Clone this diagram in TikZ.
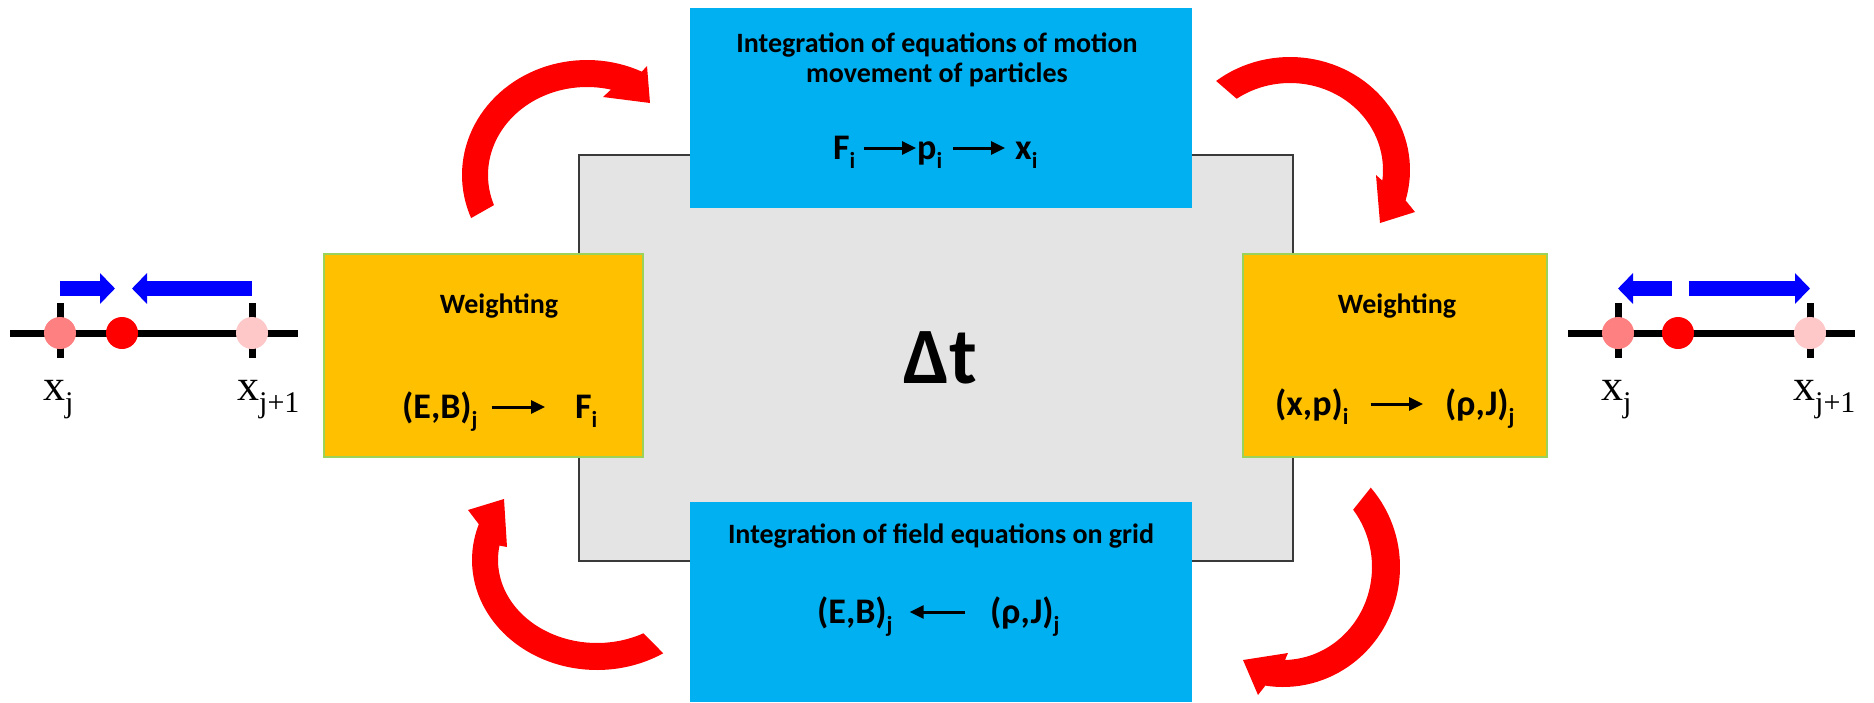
\documentclass[tikz,border=0pt]{standalone}
\usepackage{fontspec}
\setmainfont{Carlito}
\newfontfamily\labfont{Liberation Serif}
\usetikzlibrary{arrows.meta}
\definecolor{boxblue}{HTML}{00B0F0}
\definecolor{boxorange}{HTML}{FFC000}
\definecolor{boxgreen}{HTML}{9BD25A}
\definecolor{gbox}{HTML}{E4E4E4}
\definecolor{gborder}{HTML}{3A3A3A}
\definecolor{dotpink}{HTML}{FF8080}
\definecolor{dotlight}{HTML}{FFC8C8}
\newcommand\sbx[1]{\raisebox{-9pt}{\fontsize{23}{23}\selectfont #1}}
\newcommand\sbs[1]{\raisebox{-12pt}{\fontsize{30}{30}\selectfont #1}}
\begin{document}
\begin{tikzpicture}[x=1pt,y=-1pt,
  box/.style={inner sep=0pt, outer sep=0pt, anchor=north west},
  ttl/.style={font=\bfseries\fontsize{28}{30}\selectfont, inner sep=0pt, anchor=base},
  frm/.style={font=\bfseries\fontsize{36}{40}\selectfont, inner sep=0pt, anchor=base west},
  lab/.style={font=\labfont\fontsize{44}{44}\selectfont, inner sep=0pt, anchor=base west},
  farr/.style={line width=3pt, -{Triangle[length=14pt,width=13pt]}},
  barr/.style={line width=15pt, color=blue, -{Triangle[length=15pt,width=30pt]}},
  grid/.style={line width=7pt, black},
  dot/.style={circle, inner sep=0pt, minimum size=32pt},
  redarr/.style={fill=red}]
\useasboundingbox (0,0) rectangle (1874,702);

% boxes
\node[box, fill=gbox, draw=gborder, line width=1.5pt, minimum width=714pt, minimum height=406pt] (core) at (579,155) {};
\node[box, fill=boxblue, minimum width=502pt, minimum height=200pt] (push) at (690,8) {};
\node[box, fill=boxblue, minimum width=502pt, minimum height=200pt] (field) at (690,502) {};
\node[box, fill=boxorange, draw=boxgreen, line width=1.2pt, minimum width=319pt, minimum height=203pt] (wgtF) at (324,254) {};
\node[box, fill=boxorange, draw=boxgreen, line width=1.2pt, minimum width=304pt, minimum height=203pt] (wgtJ) at (1243,254) {};

% texts
\node[ttl] (t1a) at (937,52) {Integration of equations of motion};
\node[ttl] (t1b) at (937,82) {movement of particles};
\node[ttl] (t2) at (941,543) {Integration of field equations on grid};
\node[ttl] (wl) at (499,313) {Weighting};
\node[ttl] (wr) at (1397,313) {Weighting};
\node[font=\bfseries\fontsize{80}{80}\selectfont, inner sep=0pt, anchor=base] (dt) at (940,383) {Δt};

% top formula
\node[frm] (Fi) at (833,159) {F\sbx{i}};
\node[frm] (pi) at (917,159) {p\sbx{i}};
\node[frm] (xi) at (1015,159) {x\sbx{i}};
\draw[farr] ([xshift=8pt,yshift=11pt]Fi.base east) -- ([xshift=-1pt,yshift=11pt]pi.base west);
\draw[farr] ([xshift=11pt,yshift=11pt]pi.base east) -- ([xshift=-10pt,yshift=11pt]xi.base west);

% left weighting formula
\node[frm] (EBl) at (402,418) {(E,B)\sbx{j}};
\node[frm] (Fl) at (575,418) {F\sbx{i}};
\draw[farr] ([xshift=14pt,yshift=11pt]EBl.base east) -- ([xshift=-30pt,yshift=11pt]Fl.base west);

% right weighting formula
\node[frm] (xpr) at (1275,415) {(x,p)\sbx{i}};
\node[frm] (rJr) at (1445,415) {(ρ,J)\sbx{j}};
\draw[farr] ([xshift=22pt,yshift=11pt]xpr.base east) -- ([xshift=-22pt,yshift=11pt]rJr.base west);

% bottom formula
\node[frm] (EBb) at (817,623) {(E,B)\sbx{j}};
\node[frm] (rJb) at (990,623) {(ρ,J)\sbx{j}};
\draw[farr] ([xshift=-25pt,yshift=11pt]rJb.base west) -- ([xshift=17pt,yshift=11pt]EBb.base east);

% red circular arrows
\fill[redarr] plot[domain=158:296, samples=50] ({587+125*cos(\x)},{175+115*sin(\x)})
  -- (647,66) -- (650,103) -- (603,97)
  -- plot[domain=284:160, samples=50] ({587+99*cos(\x)},{175+88*sin(\x)}) -- cycle;
\fill[redarr] plot[domain=-128:15.6, samples=50] ({1290+120*cos(\x)},{170+113*sin(\x)})
  -- (1415,212) -- (1380,223) -- (1376,175)
  -- plot[domain=7:-125, samples=50] ({1290+93*cos(\x)},{170+87*sin(\x)}) -- cycle;
\fill[redarr] plot[domain=-41.4:98.7, samples=50] ({1283+117*cos(\x)},{567+120*sin(\x)})
  -- (1258,695) -- (1243,660) -- (1288,653)
  -- plot[domain=88.7:-38, samples=50] ({1283+89*cos(\x)},{567+93*sin(\x)}) -- cycle;
\fill[redarr] plot[domain=58:199, samples=50] ({597+125*cos(\x)},{560+110*sin(\x)})
  -- (468,510) -- (504,499) -- (507,547)
  -- plot[domain=190:62, samples=50] ({597+99*cos(\x)},{560+83*sin(\x)}) -- cycle;

% left lattice
\draw[grid] (10,333) -- (298,333);
\draw[grid] (60,303) -- (60,358);
\draw[grid] (252,303) -- (252,358);
\node[dot, fill=dotpink] (lj) at (60,333) {};
\node[dot, fill=red] (lp) at (122,333) {};
\node[dot, fill=dotlight] (lk) at (252,333) {};
\draw[barr] (60,288.5) -- (115,288.5);
\draw[barr] (252,288.5) -- (132,288.5);
\node[lab] (lxj) at (43,400) {x\sbs{j}};
\node[lab] (lxk) at (237,400) {x\sbs{j+1}};

% right lattice
\draw[grid] (1568,333) -- (1855,333);
\draw[grid] (1618,303) -- (1618,358);
\draw[grid] (1810,303) -- (1810,358);
\node[dot, fill=dotpink] (rj) at (1618,333) {};
\node[dot, fill=red] (rp) at (1678,333) {};
\node[dot, fill=dotlight] (rk) at (1810,333) {};
\draw[barr] (1672,288.5) -- (1618,288.5);
\draw[barr] (1689,288.5) -- (1810,288.5);
\node[lab] (rxj) at (1601,400) {x\sbs{j}};
\node[lab] (rxk) at (1793,400) {x\sbs{j+1}};
\end{tikzpicture}
\end{document}
